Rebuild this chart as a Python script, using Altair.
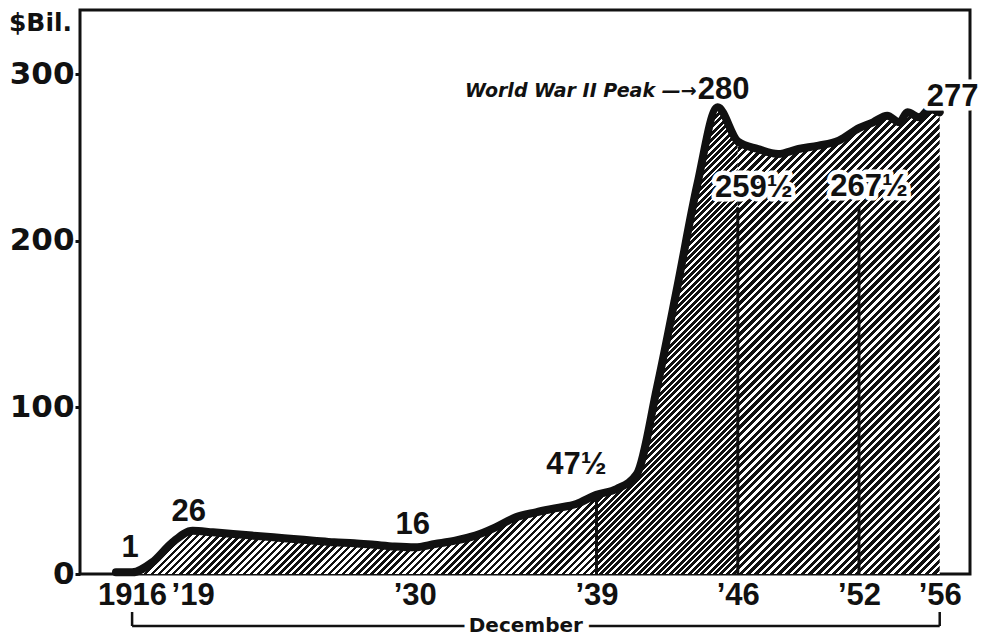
import math
import altair as alt
import pandas as pd

# ---------------- data ----------------
years = [1915.2, 1916, 1917, 1918, 1919, 1920, 1921, 1922, 1923, 1924, 1925, 1926,
         1927, 1928, 1929, 1930, 1931, 1932, 1933, 1934, 1935, 1936, 1937, 1938,
         1939, 1940, 1941, 1942, 1943, 1944, 1945, 1946, 1947, 1948, 1949, 1950,
         1951, 1952, 1952.7, 1953.4, 1954.0, 1954.4, 1955.0, 1955.5, 1956]
debt = [1, 1, 7, 19, 26, 25, 24, 23, 22, 21, 20, 19,
        18.5, 17.5, 16.5, 16, 18, 20, 23, 28, 34, 37, 39.5, 42,
        47.5, 51, 60, 112, 172, 234, 280, 259.5, 255, 252, 255, 257,
        260, 267.5, 271, 275, 271, 277, 274, 279, 277]

tick_years = [1916, 1919, 1930, 1939, 1946, 1952, 1956]
y_ticks = [0, 100, 200, 300]
section_edges = [1915.2, 1939, 1946, 1956]
divider_years = [1939, 1946, 1952]
divider_tops = [47.5, 220, 220]
label_years = [1916, 1919, 1930, 1939, 1945, 1946, 1952, 1956]
label_texts = ["1", "26", "16", "47½", "280", "259½", "267½", "277"]
peak_note = "World War II Peak —→"
bracket_years = [1916, 1956]
bracket_text = "December"
unit_title = "$Bil."

# ---------------- layout / style ----------------
PW, PH = 890, 564
XMIN, XMAX = 1913.42, 1957.5
YMAX = 338.4
INK = "#111111"
PAPER = "#ffffff"
NARROW = "Liberation Sans, Arial, sans-serif"
WIDE = "DejaVu Sans, sans-serif"

# pixel offsets of the value labels from their points (dx, dy, halo)
LABEL_STYLE = {
    "1": (-2, -24, False),
    "26": (-4, -19, False),
    "16": (-2, -22, False),
    "47½": (-20, -30, False),
    "280": (6, -17, False),
    "259½": (16, 46, True),
    "267½": (10, 59, True),
    "277": (13, -15, True),
}

px_year = PW / (XMAX - XMIN)
px_unit = PH / YMAX

df = pd.DataFrame({"year": years, "debt": debt})

AX_X = alt.Axis(values=tick_years, domain=False, ticks=False, grid=False,
                labelExpr="datum.value == 1916 ? '1916' : '\u2019' + substring(toString(datum.value), 2, 4)",
                labelFont=NARROW, labelFontSize=31, labelFontWeight="bold", labelColor=INK,
                labelPadding=6, labelOverlap=False, labelBound=False, title=None)
AX_Y = alt.Axis(values=y_ticks, domain=False, grid=False, ticks=True, tickSize=5, tickWidth=3,
                tickColor=INK, labelFont=WIDE, labelFontSize=31, labelFontWeight="bold",
                labelColor=INK, labelPadding=1, title=unit_title, titleAngle=0,
                titleX=-40, titleY=12, titleAlign="center", titleBaseline="middle",
                titleFont=WIDE, titleFontSize=25, titleFontWeight="bold", titleColor=INK)
SX = alt.Scale(domain=[XMIN, XMAX], nice=False, zero=False)
SY = alt.Scale(domain=[0, YMAX], nice=False, zero=True)


def X(f="year"):
    return alt.X(f, type="quantitative", scale=SX, axis=AX_X)


def Y(f="debt"):
    return alt.Y(f, type="quantitative", scale=SY, axis=AX_Y)


def hatch(w_px, h_px, pitch, ink):
    n = max(1, round((w_px + h_px) / math.sqrt(2) / pitch))
    stops = []
    for i in range(n):
        a, b, c = i / n, (i + ink) / n, (i + 1) / n
        stops += [{"offset": a, "color": INK}, {"offset": b, "color": INK},
                  {"offset": b, "color": PAPER}, {"offset": c, "color": PAPER}]
    k = (w_px + h_px) / (w_px ** 2 + h_px ** 2)
    return {"gradient": "linear", "stops": stops, "x1": 0, "y1": 0,
            "x2": w_px * k, "y2": h_px * k}


layers = []
patterns = [(5.0, 0.5), (4.5, 0.64), (5.5, 0.57)]
for (lo, hi), (pitch, ink) in zip(zip(section_edges[:-1], section_edges[1:]), patterns):
    seg = [v for y, v in zip(years, debt) if lo <= y <= hi]
    w = (hi - lo) * px_year
    h = max(seg) * px_unit
    layers.append(
        alt.Chart(df).transform_filter(
            (alt.datum.year >= lo) & (alt.datum.year <= hi)
        ).mark_area(fill=hatch(w, h, pitch, ink), interpolate="monotone", stroke=None)
        .encode(x=X(), y=Y())
    )

# divider rules in the shaded area
div_df = pd.DataFrame({"year": divider_years, "base": [0] * len(divider_years), "debt": divider_tops})
layers.append(alt.Chart(div_df).mark_rule(color=INK, strokeWidth=3).encode(
    x=X(), y=Y("base"), y2="debt"))

# the thick debt line
layers.append(alt.Chart(df).mark_line(color=INK, strokeWidth=8, interpolate="monotone",
                                      strokeJoin="round", strokeCap="round").encode(x=X(), y=Y()))

# value labels
lookup = dict(zip(years, debt))
for yr, txt in zip(label_years, label_texts):
    dx, dy, halo = LABEL_STYLE[txt]
    ldf = pd.DataFrame({"year": [yr], "debt": [lookup[yr]], "label": [txt]})
    common = dict(font=NARROW, fontSize=31, fontWeight="bold", dx=dx, dy=dy,
                  align="center", baseline="middle")
    if halo:
        layers.append(alt.Chart(ldf).mark_text(fill=PAPER, stroke=PAPER, strokeWidth=9,
                                               strokeJoin="round", **common)
                      .encode(x=X(), y=Y(), text="label"))
    layers.append(alt.Chart(ldf).mark_text(fill=INK, **common)
                  .encode(x=X(), y=Y(), text="label"))

# peak note
note_df = pd.DataFrame({"year": [1945], "debt": [280], "label": [peak_note]})
layers.append(alt.Chart(note_df).mark_text(font=WIDE, fontSize=19, fontWeight="bold",
                                           fontStyle="italic", align="right", baseline="middle",
                                           dx=-21, dy=-16, fill=INK)
              .encode(x=X(), y=Y(), text="label"))

# "December" bracket under the axis
br_df = pd.DataFrame({"year": [bracket_years[0]], "year_end": [bracket_years[1]]})
layers.append(alt.Chart(br_df).mark_rule(color=INK, strokeWidth=2.5).encode(
    x=X(), x2="year_end", y=alt.value(PH + 52)))
end_df = pd.DataFrame({"year": bracket_years})
layers.append(alt.Chart(end_df).mark_rule(color=INK, strokeWidth=2.5).encode(
    x=X(), y=alt.value(PH + 38), y2=alt.value(PH + 52)))
dec_df = pd.DataFrame({"year": [sum(bracket_years) / 2 - 0.5], "label": [bracket_text]})
dec_common = dict(font=WIDE, fontSize=20, fontWeight="bold", align="center", baseline="middle")
layers.append(alt.Chart(dec_df).mark_text(fill=PAPER, stroke=PAPER, strokeWidth=12, **dec_common)
              .encode(x=X(), y=alt.value(PH + 52), text="label"))
layers.append(alt.Chart(dec_df).mark_text(fill=INK, **dec_common)
              .encode(x=X(), y=alt.value(PH + 52), text="label"))

chart = alt.layer(*layers).properties(
    width=PW, height=PH,
    autosize=alt.AutoSizeParams(type="none"),
    padding={"left": 72, "top": 2, "right": 14, "bottom": 62},
    background="white",
).configure_view(stroke=INK, strokeWidth=3)

chart.save("out.html", embed_options={"renderer": "svg", "actions": False})
